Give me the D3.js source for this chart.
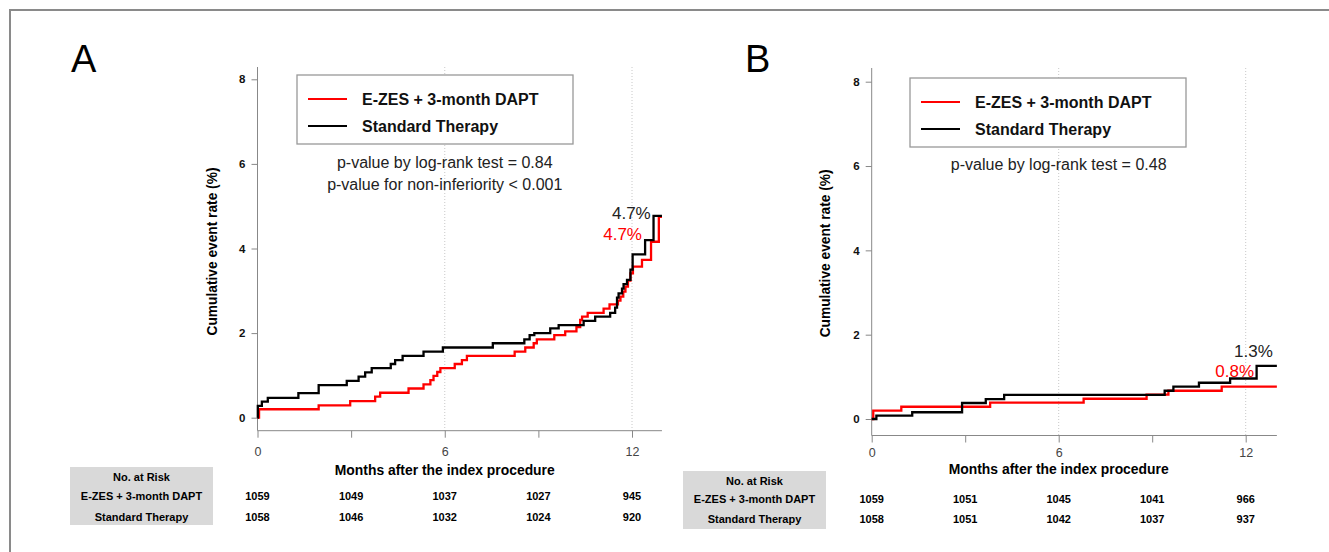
<!DOCTYPE html>
<html>
<head>
<meta charset="utf-8">
<script src="https://cdn.jsdelivr.net/npm/d3@7"></script>
<style>
  body { margin: 0; background: #fff; }
  text { font-family: "Liberation Sans", Arial, sans-serif; }
</style>
</head>
<body>
<script>
var width = 1329, height = 552;

var groups = ['E-ZES + 3-month DAPT', 'Standard Therapy'];
var colors = ['#ff0000', '#000000'];
var monthTicks = [0, 3, 6, 9, 12];
var monthLabels = ['0', '', '6', '', '12'];
var rateTicks = [0, 2, 4, 6, 8];
var gridMonths = [6, 12];

// panel A : [month, cumulative %]
var ezesA = [[0,0],[0.05,0.2],[1.96,0.29],[2.97,0.39],[3.77,0.5],[3.93,0.59],[4.84,0.69],[5.32,0.79],
  [5.54,0.89],[5.64,0.99],[5.76,1.08],[5.86,1.17],[6.32,1.27],[6.55,1.36],[6.71,1.46],[8.24,1.56],
  [8.58,1.66],[8.85,1.76],[8.95,1.85],[9.51,1.95],[9.86,2.04],[10.22,2.14],[10.34,2.31],[10.4,2.39],
  [10.58,2.48],[11.09,2.58],[11.28,2.68],[11.55,2.77],[11.63,2.86],[11.72,2.98],[11.79,3.1],
  [11.87,3.24],[11.95,3.41],[12.03,3.57],[12.32,3.73],[12.61,4.16],[12.86,4.75]];
var stdA = [[0,0],[0.01,0.28],[0.14,0.38],[0.33,0.47],[1.31,0.58],[1.96,0.77],[2.86,0.87],[3.24,0.97],
  [3.45,1.07],[3.66,1.17],[4.27,1.27],[4.41,1.36],[4.65,1.46],[5.32,1.56],[5.94,1.66],[7.54,1.76],
  [8.55,1.85],[8.72,1.95],[8.87,2.0],[9.38,2.11],[9.65,2.19],[10.45,2.29],[10.82,2.39],[11.3,2.48],
  [11.46,2.6],[11.52,2.84],[11.57,2.94],[11.68,3.05],[11.73,3.16],[11.84,3.26],[11.95,3.5],
  [12.02,3.86],[12.42,4.2],[12.69,4.77]];
var riskEzesA = [1059, 1049, 1037, 1027, 945];
var riskStdA = [1058, 1046, 1032, 1024, 920];
var pTextA = ['p-value by log-rank test = 0.84', 'p-value for non-inferiority < 0.001'];
var endLabelsA = ['4.7%', '4.7%'];

// panel B
var ezesB = [[0,0],[0.05,0.2],[0.95,0.29],[3.8,0.39],[6.8,0.48],[8.82,0.58],[9.52,0.67],[11.23,0.77]];
var stdB = [[0,0],[0.15,0.08],[1.3,0.16],[2.9,0.38],[3.66,0.47],[4.25,0.57],[9.4,0.67],[9.68,0.77],
  [10.5,0.86],[11.5,0.96],[12.35,1.26]];
var riskEzesB = [1059, 1051, 1045, 1041, 966];
var riskStdB = [1058, 1051, 1042, 1037, 937];
var pTextB = ['p-value by log-rank test = 0.48'];
var endLabelsB = ['0.8%', '1.3%'];

var svg = d3.select('body').append('svg')
    .attr('width', width)
    .attr('height', height);

// outer frame (left and top edges only are visible)
svg.append('path')
    .attr('d', 'M10,' + height + 'V10H' + width)
    .attr('fill', 'none')
    .attr('stroke', '#8a8a8a')
    .attr('stroke-width', 2);

var panels = [
  { letter: 'A', letterX: 71, xr: [257.5, 632], yr: [417.7, 79.3], axisY: 430.7, yTop: 67, xEnd: 12.96,
    curves: [ezesA, stdA], risk: [riskEzesA, riskStdA], pText: pTextA, ends: endLabelsA,
    endPos: [[12.32, 4.2], [12.6, 4.7]], legend: [297, 75, 276, 69], pY: 168, tickPad: 9,
    box: [70, 467, 143, 58], rows: [477, 496, 517], xTitleY: 470, yTitleX: 212 },
  { letter: 'B', letterX: 745, xr: [871.7, 1245.7], yr: [419, 81.7], axisY: 435.5, yTop: 68, xEnd: 13.0,
    curves: [ezesB, stdB], risk: [riskEzesB, riskStdB], pText: pTextB, ends: endLabelsB,
    endPos: [[12.27, 1.0], [12.87, 1.46]], legend: [910, 78, 276, 69], pY: 170, tickPad: 6,
    box: [683, 471, 143, 58], rows: [481, 499, 519], xTitleY: 469, yTitleX: 825 }
];

panels.forEach(function(p) {
  var x = d3.scaleLinear().domain([0, 12]).range(p.xr);
  var y = d3.scaleLinear().domain([0, 8]).range(p.yr);
  var g = svg.append('g');

  g.append('text')
      .attr('x', p.letterX).attr('y', 72)
      .style('font-size', '38px')
      .text(p.letter);

  // dotted verticals
  g.selectAll('.grid').data(gridMonths).enter().append('line')
      .attr('x1', x).attr('x2', x)
      .attr('y1', p.yTop).attr('y2', p.axisY)
      .attr('stroke', '#c8c8c8')
      .attr('stroke-dasharray', '1,2');

  // y axis
  var yAxis = g.append('g')
      .attr('transform', 'translate(' + p.xr[0] + ',0)')
      .call(d3.axisLeft(y).tickValues(rateTicks).tickSize(6).tickPadding(6));
  yAxis.select('.domain').remove();
  yAxis.selectAll('line').attr('stroke', '#888');
  yAxis.selectAll('text').style('font-size', '11.5px').style('font-weight', 'bold').attr('fill', '#111');
  g.append('line')
      .attr('x1', p.xr[0]).attr('x2', p.xr[0])
      .attr('y1', p.yTop).attr('y2', p.axisY)
      .attr('stroke', '#888');

  // x axis
  var xAxis = g.append('g')
      .attr('transform', 'translate(0,' + p.axisY + ')')
      .call(d3.axisBottom(x).tickValues(monthTicks)
        .tickFormat(function(d, i) { return monthLabels[i]; })
        .tickSize(7).tickPadding(p.tickPad));
  xAxis.select('.domain').remove();
  xAxis.selectAll('line').attr('stroke', '#888');
  xAxis.selectAll('text').style('font-size', '12.5px').attr('fill', '#444');
  g.append('line')
      .attr('x1', x(0)).attr('x2', x(p.xEnd))
      .attr('y1', p.axisY).attr('y2', p.axisY)
      .attr('stroke', '#888');

  g.append('text')
      .attr('transform', 'translate(' + p.yTitleX + ',' + ((p.yr[0] + p.yr[1]) / 2 + 3) + ') rotate(-90)')
      .attr('text-anchor', 'middle')
      .attr('dy', '0.35em')
      .attr('textLength', 168).attr('lengthAdjust', 'spacingAndGlyphs')
      .style('font-size', '14px').style('font-weight', 'bold')
      .text('Cumulative event rate (%)');

  g.append('text')
      .attr('x', x(6)).attr('y', p.xTitleY)
      .attr('dy', '0.35em')
      .attr('text-anchor', 'middle')
      .attr('textLength', 220).attr('lengthAdjust', 'spacingAndGlyphs')
      .style('font-size', '15px').style('font-weight', 'bold')
      .text('Months after the index procedure');

  // curves
  var line = d3.line()
      .x(function(d) { return x(d[0]); })
      .y(function(d) { return y(d[1]); })
      .curve(d3.curveStepAfter);
  p.curves.forEach(function(c, i) {
    var pts = c.concat([[p.xEnd, c[c.length - 1][1]]]);
    g.append('path')
        .datum(pts)
        .attr('d', line)
        .attr('fill', 'none')
        .attr('stroke', colors[i])
        .attr('stroke-width', 2.3);
  });

  // end labels
  p.ends.forEach(function(t, i) {
    g.append('text')
        .attr('x', x(p.endPos[i][0])).attr('y', y(p.endPos[i][1]))
        .attr('text-anchor', 'end')
        .attr('fill', colors[i] == '#000000' ? '#222' : colors[i])
        .style('font-size', '17px')
        .text(t);
  });

  // legend
  var lg = g.append('g').attr('transform', 'translate(' + p.legend[0] + ',' + p.legend[1] + ')');
  lg.append('rect')
      .attr('width', p.legend[2]).attr('height', p.legend[3])
      .attr('fill', '#fff').attr('stroke', '#999').attr('stroke-width', 1.3);
  groups.forEach(function(name, i) {
    lg.append('line')
        .attr('x1', 11).attr('x2', 50)
        .attr('y1', 24 + i * 27).attr('y2', 24 + i * 27)
        .attr('stroke', colors[i]).attr('stroke-width', 2.2);
    lg.append('text')
        .attr('x', 65).attr('y', 24 + i * 27)
        .attr('dy', '0.35em')
        .style('font-size', '16px').style('font-weight', 'bold')
        .attr('fill', '#111')
        .text(name);
  });

  // p-values
  p.pText.forEach(function(t, i) {
    g.append('text')
        .attr('x', x(6)).attr('y', p.pY + i * 22)
        .attr('text-anchor', 'middle')
        .style('font-size', '16px')
        .attr('fill', '#222')
        .text(t);
  });

  // number at risk table
  g.append('rect')
      .attr('x', p.box[0]).attr('y', p.box[1])
      .attr('width', p.box[2]).attr('height', p.box[3])
      .attr('fill', '#d9d9d9');
  ['No. at Risk'].concat(groups).forEach(function(t, i) {
    g.append('text')
        .attr('x', p.box[0] + p.box[2] / 2).attr('y', p.rows[i])
        .attr('dy', '0.35em')
        .attr('text-anchor', 'middle')
        .style('font-size', '11px').style('font-weight', 'bold')
        .text(t);
  });
  p.risk.forEach(function(vals, r) {
    g.selectAll('.risk' + r).data(vals).enter().append('text')
        .attr('x', function(d, i) { return x(monthTicks[i]); })
        .attr('y', p.rows[r + 1])
        .attr('dy', '0.35em')
        .attr('text-anchor', 'middle')
        .style('font-size', '11px').style('font-weight', 'bold')
        .text(function(d) { return d; });
  });
});
</script>
</body>
</html>
